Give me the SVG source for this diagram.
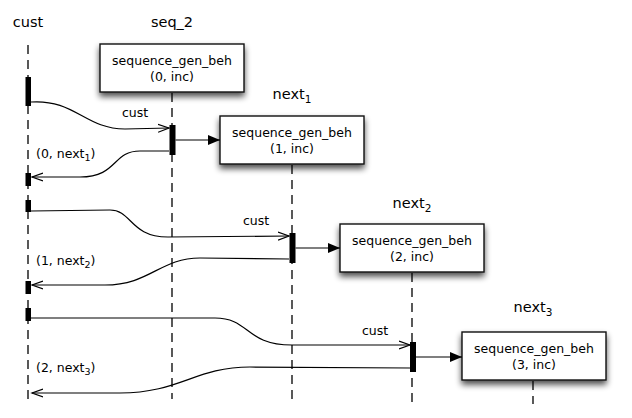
<svg xmlns="http://www.w3.org/2000/svg" width="632" height="418" viewBox="0 0 632 418">
<style>
text{font-family:"DejaVu Sans","Liberation Sans",sans-serif;fill:#000}
.title{font-size:14.5px;text-anchor:middle}
.box{fill:#fff;stroke:#111;stroke-width:1.4}
.bt{font-size:12.5px;text-anchor:middle}
.lbl{font-size:12.5px}
.life{stroke:#000;stroke-width:1.3;stroke-dasharray:9,6;fill:none}
.bar{fill:#000}
.msg{fill:none;stroke:#000;stroke-width:1.2}
.open{marker-end:url(#openArrow)}
.solid{marker-end:url(#fillArrow)}
</style>
<defs>
<filter id="sh" x="-20%" y="-30%" width="140%" height="180%">
<feGaussianBlur in="SourceAlpha" stdDeviation="3"/>
<feOffset dx="0" dy="4" result="b"/>
<feComponentTransfer><feFuncA type="linear" slope="0.7"/></feComponentTransfer>
<feMerge><feMergeNode/><feMergeNode in="SourceGraphic"/></feMerge>
</filter>
<marker id="openArrow" markerUnits="userSpaceOnUse" markerWidth="14" markerHeight="12" refX="11" refY="5" orient="auto">
<path d="M0,1 L11,5 L0,9" fill="none" stroke="#000" stroke-width="1.2"/>
</marker>
<marker id="fillArrow" markerUnits="userSpaceOnUse" markerWidth="14" markerHeight="12" refX="12" refY="5" orient="auto">
<path d="M0,0 L12,5 L0,10 Z" fill="#000"/>
</marker>
</defs>
<g id="lifelines">
<line class="life" x1="28" y1="45" x2="28" y2="403"/>
<line class="life" x1="172" y1="93" x2="172" y2="399"/>
<line class="life" x1="292" y1="165" x2="292" y2="403"/>
<line class="life" x1="412" y1="273" x2="412" y2="403"/>
<line class="life" x1="533" y1="381" x2="533" y2="404"/>
</g>
<g id="cust">
<text class="title" x="28" y="27">cust</text>
<rect class="bar" x="25.5" y="77" width="5.5" height="29"/>
<rect class="bar" x="25.5" y="173" width="5.5" height="13"/>
<rect class="bar" x="25.5" y="200" width="5.5" height="12"/>
<rect class="bar" x="25.5" y="281" width="5.5" height="13"/>
<rect class="bar" x="25.5" y="308" width="5.5" height="13"/>
</g>
<g id="seq_2">
<text class="title" x="172" y="27">seq_2</text>
<rect class="box" x="100" y="44" width="144" height="48" filter="url(#sh)"/>
<text class="bt" x="172" y="65">sequence_gen_beh</text>
<text class="bt" x="172" y="81">(0, inc)</text>
<rect class="bar" x="169.5" y="125" width="6" height="30"/>
</g>
<g id="next1">
<text class="title" x="292" y="99">next<tspan font-size="10.5" dy="4">1</tspan></text>
<rect class="box" x="220" y="116" width="144" height="48" filter="url(#sh)"/>
<text class="bt" x="292" y="137">sequence_gen_beh</text>
<text class="bt" x="292" y="153">(1, inc)</text>
<rect class="bar" x="289.5" y="233" width="6" height="30"/>
</g>
<g id="next2">
<text class="title" x="412" y="208">next<tspan font-size="10.5" dy="4">2</tspan></text>
<rect class="box" x="340" y="224" width="144" height="48" filter="url(#sh)"/>
<text class="bt" x="412" y="245">sequence_gen_beh</text>
<text class="bt" x="412" y="261">(2, inc)</text>
<rect class="bar" x="410" y="342" width="6" height="30"/>
</g>
<g id="next3">
<text class="title" x="533" y="312">next<tspan font-size="10.5" dy="4">3</tspan></text>
<rect class="box" x="462" y="332" width="144" height="48" filter="url(#sh)"/>
<text class="bt" x="534" y="353">sequence_gen_beh</text>
<text class="bt" x="534" y="369">(3, inc)</text>
</g>
<g id="connectors">
<path class="msg open" d="M31,102 C75,99 85,129 125,129 L169,128"/>
<path class="msg open" d="M169,151 L140,151 C112,151 118,177 80,177 L32,177"/>
<path class="msg solid" d="M175.5,140 L220,140"/>
<path class="msg open" d="M31,211 L110,210 C132,210 130,237 168,237 L289,236"/>
<path class="msg open" d="M289,259 L200,258 C160,258 150,285 105,285 L32,285"/>
<path class="msg solid" d="M295.5,248 L340,248"/>
<path class="msg open" d="M31,318 L215,318 C250,318 245,345 292,345 L410,345"/>
<path class="msg open" d="M410,368 L250,367 C195,367 180,393 120,393 L32,393"/>
<path class="msg solid" d="M416,357 L462,357"/>
</g>
<g id="labels">
<text class="lbl" x="122" y="117">cust</text>
<text class="lbl" x="36" y="158">(0, next<tspan font-size="9.5" dy="3">1</tspan><tspan dy="-3">)</tspan></text>
<text class="lbl" x="243" y="225">cust</text>
<text class="lbl" x="36" y="265">(1, next<tspan font-size="9.5" dy="3">2</tspan><tspan dy="-3">)</tspan></text>
<text class="lbl" x="362" y="335">cust</text>
<text class="lbl" x="36" y="372">(2, next<tspan font-size="9.5" dy="3">3</tspan><tspan dy="-3">)</tspan></text>
</g>
</svg>
